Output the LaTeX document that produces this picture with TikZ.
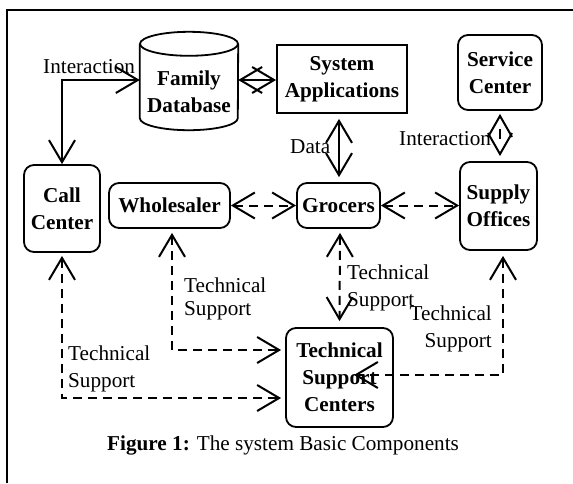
\documentclass[tikz,border=0pt]{standalone}
\usepackage{fontspec}
\setmainfont{Liberation Serif}
\usetikzlibrary{arrows.meta,calc}
\begin{document}
\begin{tikzpicture}[x=1pt,y=-1pt,
  every node/.style={font=\fontsize{21.2}{27}\selectfont, inner sep=0pt},
  unit/.style={draw, line width=1.8pt, align=center,
    font=\fontsize{21.2}{27}\selectfont\bfseries},
  squarebox/.style={unit},
  roundbox/.style={unit, rounded corners=10pt},
  barb/.tip={Straight Barb[length=22pt,width=26pt]},
  conn/.style={line width=2pt, barb-barb},
  dashconn/.style={conn, dash pattern=on 9pt off 6pt},
  note/.style={align=left, anchor=base west},
]
\useasboundingbox (0,0) rectangle (573,483);

% page frame (only its top and left edges fall inside the picture)
\draw[line width=1.6pt] (7,483) -- (7,10) -- (573,10);

% family database: a cylinder drawn round an invisible box
\node[minimum width=98pt, minimum height=98pt] (db) at (189,81) {};
\draw[line width=1.8pt]
  ([yshift=-12pt]db.north west) -- ([yshift=12pt]db.south west)
  arc[start angle=180, end angle=360, x radius=49pt, y radius=12pt]
  -- ([yshift=-12pt]db.north east);
\draw[line width=1.8pt] ([yshift=-12pt]db.north) ellipse [x radius=49pt, y radius=12pt];
\node[align=center, font=\fontsize{21.2}{27}\selectfont\bfseries] (dbtext) at (189,92) {Family\\Database};

% components
\node[squarebox, minimum width=130pt, minimum height=68pt] (sys) at (342,79) {System\\Applications};
\node[roundbox, minimum width=84pt, minimum height=75pt] (svc) at (500,72.5) {Service\\Center};
\node[roundbox, minimum width=76pt, minimum height=87pt] (call) at (62,208.5) {Call\\Center};
\node[roundbox, minimum width=121pt, minimum height=45pt] (whl) at (169.5,205.5) {Wholesaler};
\node[roundbox, minimum width=83pt, minimum height=45pt] (gro) at (338.5,205.5) {Grocers};
\node[roundbox, minimum width=77pt, minimum height=88pt] (sup) at (498.5,206) {Supply\\Offices};
\node[roundbox, minimum width=107pt, minimum height=99pt] (tsc) at (339.5,377.5) {Technical\\Support\\Centers};

% solid links
\draw[conn] (call.north) |- ([yshift=1pt]db.west);
\draw[conn] ([yshift=1pt]db.east) -- ([yshift=1pt]db.east -| sys.west);
\draw[conn] ([xshift=-3pt,yshift=-5pt]sys.south) -- ([xshift=0.5pt,yshift=5pt]gro.north);
\draw[line width=2pt, {Straight Barb[length=21pt,width=24pt]}-{Straight Barb[length=21pt,width=24pt]},
      dash pattern=on 0pt off 12pt on 10pt off 60pt]
  ([yshift=-3pt]svc.south) -- ([yshift=5pt,xshift=1.5pt]sup.north);

% dashed links
\draw[dashconn] (whl.east) -- (gro.west);
\draw[dashconn] (gro.east) -- (gro.east -| sup.west);
\draw[dashconn] ([xshift=1.5pt,yshift=-4pt]gro.south) -- ([yshift=6pt]tsc.north);
\draw[dashconn] ([xshift=2.5pt,yshift=-4pt]whl.south) |- ([xshift=-4pt,yshift=27.5pt]tsc.west);
\draw[dashconn] ([yshift=-3pt]call.south) |- ([xshift=-4pt,yshift=-20.5pt]tsc.west);
\coordinate (tscin) at ([xshift=-40pt,yshift=2.5pt]tsc.east);
\draw[dashconn] ([xshift=4.5pt,yshift=-5pt]sup.south) |- (tscin);

% link labels (a two-line label sits on the baseline of its last line)
\node[note] (l1) at (43,73) {Interaction};
\node[note] (l2) at (290,153) {Data};
\node[note] (l3) at (399,145) {Interaction};
\node[note] (l4) at (347,306) {Technical\\Support};
\node[note, font=\fontsize{21.2}{23}\selectfont] (l5) at (184,315) {Technical\\Support};
\node[note] (l6) at (68,387) {Technical\\Support};
\node[align=right, anchor=base east] (l7) at (492,347) {Technical\\Support};

% caption
\node[anchor=base west] (cap) at (107,450) {\textbf{Figure 1:} The system Basic Components};
\end{tikzpicture}
\end{document}
